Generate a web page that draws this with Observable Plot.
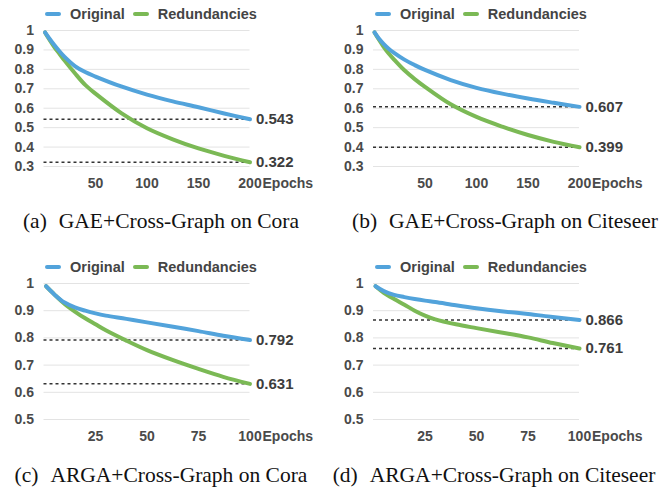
<!DOCTYPE html>
<html><head><meta charset="utf-8">
<script src="https://cdn.jsdelivr.net/npm/d3@7"></script>
<script src="https://cdn.jsdelivr.net/npm/@observablehq/plot@0.6"></script>
<style>
body{margin:0;background:#fff;}
#root{position:relative;width:667px;height:487px;overflow:hidden;font-family:"Liberation Sans",Arial,sans-serif;}
#root svg{position:absolute;}
.legend{position:absolute;display:flex;align-items:center;height:18px;font-weight:bold;font-size:14.5px;color:#444;white-space:nowrap;}
.sw{display:inline-block;width:16px;height:4px;border-radius:2px;margin-right:9px;}
.lt{margin-right:8px;}
.cap{position:absolute;font-family:"Liberation Serif","Times New Roman",serif;font-size:21.5px;line-height:24px;white-space:nowrap;transform:translateX(-50%);color:#111;}
</style></head><body><div id="root"></div><script>
const seriesNames = ["Original", "Redundancies"];
const seriesColors = ["#52a3db", "#7bb955"];

const epochs200 = [1, 5, 10, 15, 20, 30, 40, 50, 75, 100, 125, 150, 175, 200];
const epochs100 = [1, 5, 10, 15, 20, 25, 30, 40, 50, 62, 75, 87, 100];

// (a) GAE + Cross-Graph on Cora
const originalA = [0.99, 0.96, 0.925, 0.893, 0.864, 0.817, 0.786, 0.763, 0.712, 0.67, 0.635, 0.605, 0.573, 0.543];
const redundA   = [0.99, 0.955, 0.915, 0.88, 0.845, 0.78, 0.72, 0.675, 0.575, 0.497, 0.44, 0.393, 0.355, 0.322];
// (b) GAE + Cross-Graph on Citeseer
const originalB = [0.99, 0.96, 0.93, 0.905, 0.885, 0.85, 0.822, 0.797, 0.745, 0.705, 0.675, 0.65, 0.628, 0.607];
const redundB   = [0.99, 0.955, 0.915, 0.88, 0.85, 0.795, 0.75, 0.71, 0.62, 0.555, 0.505, 0.462, 0.427, 0.399];
// (c) ARGA + Cross-Graph on Cora
const originalC = [0.99, 0.96, 0.93, 0.912, 0.90, 0.89, 0.882, 0.87, 0.857, 0.842, 0.825, 0.808, 0.792];
const redundC   = [0.99, 0.96, 0.925, 0.897, 0.872, 0.85, 0.828, 0.79, 0.755, 0.72, 0.686, 0.657, 0.631];
// (d) ARGA + Cross-Graph on Citeseer
const originalD = [0.99, 0.972, 0.958, 0.95, 0.943, 0.937, 0.932, 0.92, 0.909, 0.898, 0.888, 0.877, 0.866];
const redundD   = [0.99, 0.966, 0.943, 0.922, 0.9, 0.882, 0.868, 0.85, 0.836, 0.82, 0.802, 0.781, 0.761];

const finalA = [0.543, 0.322];
const finalB = [0.607, 0.399];
const finalC = [0.792, 0.631];
const finalD = [0.866, 0.761];

const yTicksGAE  = [0.3, 0.4, 0.5, 0.6, 0.7, 0.8, 0.9, 1];
const yTicksARGA = [0.5, 0.6, 0.7, 0.8, 0.9, 1];
const xTicks200 = [50, 100, 150, 200];
const xTicks100 = [25, 50, 75, 100];
const xAxisLabel = "Epochs";

const captionLabels = ["(a)", "(b)", "(c)", "(d)"];
const captionTexts = ["GAE+Cross-Graph on Cora", "GAE+Cross-Graph on Citeseer",
                      "ARGA+Cross-Graph on Cora", "ARGA+Cross-Graph on Citeseer"];

const panels = [
  {left: 0,   top: 0,   ml: 43.5, xEnd: 249.5, legLeft: 45, epochs: epochs200, orig: originalA, red: redundA, finals: finalA, yTicks: yTicksGAE,  xTicks: xTicks200, xMax: 200, capX: 161, capY: 221},
  {left: 334, top: 0,   ml: 39,   xEnd: 245,   legLeft: 41, epochs: epochs200, orig: originalB, red: redundB, finals: finalB, yTicks: yTicksGAE,  xTicks: xTicks200, xMax: 200, capX: 505, capY: 221},
  {left: 0,   top: 253, ml: 43.5, xEnd: 249.5, legLeft: 45, epochs: epochs100, orig: originalC, red: redundC, finals: finalC, yTicks: yTicksARGA, xTicks: xTicks100, xMax: 100, capX: 161, capY: 475},
  {left: 334, top: 253, ml: 39,   xEnd: 245,   legLeft: 41, epochs: epochs100, orig: originalD, red: redundD, finals: finalD, yTicks: yTicksARGA, xTicks: xTicks100, xMax: 100, capX: 494, capY: 475}
];

const root = document.getElementById("root");
const W = 334, H = 175;

panels.forEach((p, idx) => {
  const origData = p.epochs.map((e, i) => ({epoch: e, value: p.orig[i]}));
  const redData  = p.epochs.map((e, i) => ({epoch: e, value: p.red[i]}));
  const yMin = p.yTicks[0];
  const chart = Plot.plot({
    width: W, height: H,
    marginLeft: p.ml, marginRight: W - p.xEnd, marginTop: 8, marginBottom: 31,
    x: {domain: [0, p.xMax], label: null},
    y: {domain: [yMin, 1], label: null},
    style: {fontFamily: '"Liberation Sans", Arial, sans-serif', fontSize: "14px", fontWeight: "bold", color: "#4a4a4a", background: "transparent", overflow: "visible"},
    marks: [
      Plot.ruleY(p.yTicks, {stroke: "#e3e3e3", strokeWidth: 1}),
      Plot.axisY({ticks: p.yTicks, tickSize: 0, tickPadding: 10, tickFormat: d3.format("~g"), label: null}),
      Plot.axisX({ticks: p.xTicks, tickSize: 0, tickPadding: 12, tickFormat: d3.format("d"), label: null}),
      Plot.text([xAxisLabel], {x: () => p.xMax, y: () => yMin, text: d => d, dx: 12.5, dy: 12, lineAnchor: "top", textAnchor: "start", fill: "#4a4a4a"}),
      Plot.ruleY(p.finals, {stroke: "#333", strokeWidth: 1.5, strokeDasharray: "3,3"}),
      Plot.line(redData, {x: "epoch", y: "value", stroke: seriesColors[1], strokeWidth: 4, curve: "catmull-rom", strokeLinecap: "round"}),
      Plot.line(origData, {x: "epoch", y: "value", stroke: seriesColors[0], strokeWidth: 4, curve: "catmull-rom", strokeLinecap: "round"}),
      Plot.text(p.finals, {x: () => p.xMax, y: d => d, text: d => d.toFixed(3), dx: 6, textAnchor: "start", fontSize: 15, fill: "#3d3d3d"})
    ]
  });
  chart.style.left = p.left + "px";
  chart.style.top = (p.top + 22) + "px";
  root.appendChild(chart);

  const leg = document.createElement("div");
  leg.className = "legend";
  leg.style.left = (p.left + p.legLeft) + "px";
  leg.style.top = (p.top + 5) + "px";
  seriesNames.forEach((name, i) => {
    const sw = document.createElement("span");
    sw.className = "sw"; sw.style.background = seriesColors[i];
    const t = document.createElement("span");
    t.className = "lt"; t.textContent = name;
    leg.appendChild(sw); leg.appendChild(t);
  });
  root.appendChild(leg);

  const cap = document.createElement("div");
  cap.className = "cap";
  cap.style.left = p.capX + "px";
  cap.style.top = (p.capY - 12) + "px";
  const lab = document.createElement("span");
  lab.textContent = captionLabels[idx];
  lab.style.marginRight = "12px";
  const txt = document.createElement("span");
  txt.textContent = captionTexts[idx];
  cap.appendChild(lab); cap.appendChild(txt);
  root.appendChild(cap);
});
</script></body></html>
